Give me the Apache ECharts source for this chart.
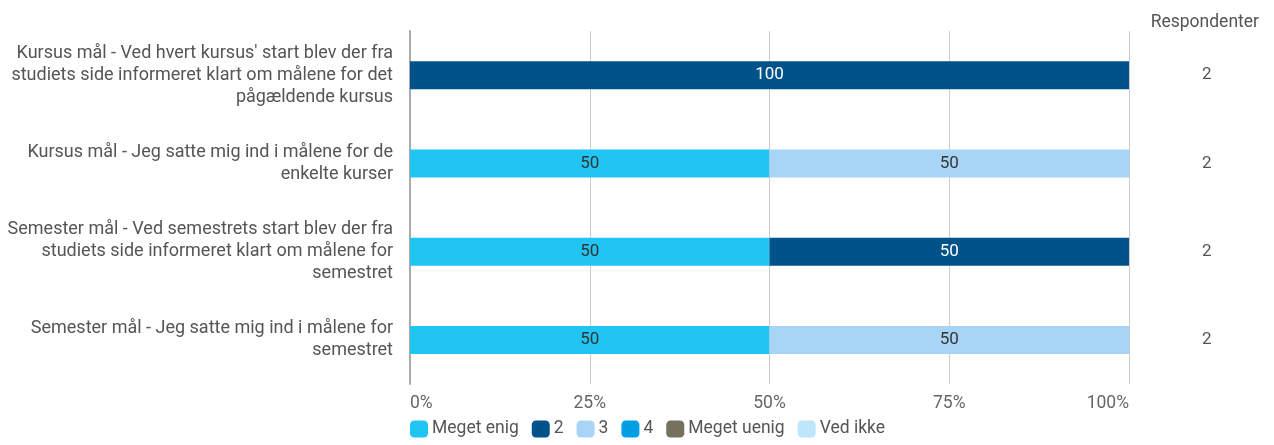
<!DOCTYPE html>
<html>
<head>
<meta charset="utf-8">
<script src="https://cdn.jsdelivr.net/npm/echarts@6/dist/echarts.min.js"></script>
<style>
  html, body { margin: 0; padding: 0; background: #fff; }
  #chart { width: 1274px; height: 445px; }
</style>
</head>
<body>
<div id="chart"></div>
<script>
const categories = [
  "Kursus mål - Ved hvert kursus' start blev der fra\nstudiets side informeret klart om målene for det\npågældende kursus",
  'Kursus mål - Jeg satte mig ind i målene for de\nenkelte kurser',
  'Semester mål - Ved semestrets start blev der fra\nstudiets side informeret klart om målene for\nsemestret',
  'Semester mål - Jeg satte mig ind i målene for\nsemestret'
]
const respondents = [2, 2, 2, 2]
const megetEnig = [0, 50, 50, 50]
const to = [100, 0, 50, 0]
const tre = [0, 50, 0, 50]
const fire = [0, 0, 0, 0]
const megetUenig = [0, 0, 0, 0]
const vedIkke = [0, 0, 0, 0]
const xTicks = [0, 25, 50, 75, 100]

const font = 'Roboto, sans-serif'

function bar(name, data, color, labelColor) {
  return {
    name: name,
    type: 'bar',
    stack: 'total',
    barWidth: 28,
    data: data,
    itemStyle: { color: color },
    label: {
      show: true,
      position: 'inside',
      color: labelColor,
      fontSize: 17,
      fontFamily: font,
      formatter: p => p.value > 0 ? p.value : ''
    }
  }
}

const chart = echarts.init(document.getElementById('chart'))
chart.setOption({
  animation: false,
  textStyle: { fontFamily: font },
  title: {
    text: 'Respondenter',
    right: 10,
    top: 9,
    textStyle: { fontSize: 17.5, fontWeight: 'normal', color: '#555', fontFamily: font }
  },
  legend: {
    left: 405,
    bottom: 2,
    itemWidth: 18,
    itemHeight: 17,
    itemGap: 13,
    icon: 'roundRect',
    textStyle: { fontSize: 17.5, color: '#555', fontFamily: font, padding: [0, 0, 0, -1] },
    data: ['Meget enig', '2', '3', '4', 'Meget uenig', 'Ved ikke']
  },
  grid: { left: 410, right: 145, top: 31, bottom: 61 },
  xAxis: {
    type: 'value',
    min: xTicks[0],
    max: xTicks[xTicks.length - 1],
    interval: 25,
    axisLine: { show: false },
    axisTick: { show: false },
    splitLine: { lineStyle: { color: '#ccc', width: 1 } },
    axisLabel: {
      formatter: '{value}%',
      color: '#666',
      fontSize: 17.5,
      margin: 11,
      alignMinLabel: 'left',
      alignMaxLabel: 'right',
      fontFamily: font
    }
  },
  yAxis: [{
    type: 'category',
    inverse: true,
    data: categories,
    axisLine: { show: true, lineStyle: { color: '#aaa', width: 2 } },
    axisTick: { show: false },
    axisLabel: {
      color: '#555',
      fontSize: 18,
      lineHeight: 22,
      margin: 17,
      align: 'right',
      fontFamily: font
    }
  }, {
    type: 'category',
    inverse: true,
    position: 'right',
    data: respondents,
    axisLine: { show: false },
    axisTick: { show: false },
    axisLabel: {
      color: '#555',
      fontSize: 17,
      margin: 73,
      fontFamily: font
    }
  }],
  series: [
    bar('Meget enig', megetEnig, '#21C5F3', '#333'),
    bar('2', to, '#00538A', '#fff'),
    bar('3', tre, '#A8D5F5', '#333'),
    bar('4', fire, '#009FE3', '#fff'),
    bar('Meget uenig', megetUenig, '#75715E', '#fff'),
    bar('Ved ikke', vedIkke, '#BDE6FA', '#333')
  ]
})
</script>
</body>
</html>
